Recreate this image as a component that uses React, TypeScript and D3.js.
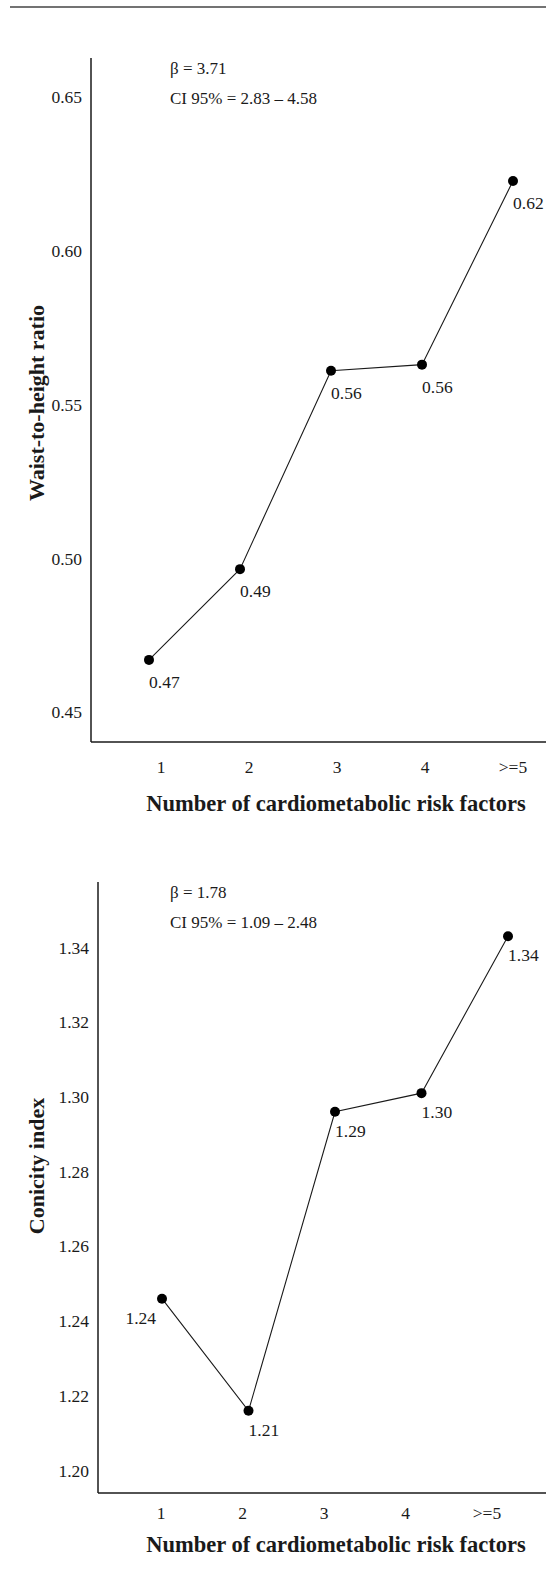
import * as d3 from "d3";
import { useEffect, useRef } from "react";

// categories on the x axis
const categories = ["1", "2", "3", "4", ">=5"];

// waist-to-height ratio (top chart)
const whtrValues = [0.467, 0.4965, 0.561, 0.563, 0.6227];
const whtrLabels = ["0.47", "0.49", "0.56", "0.56", "0.62"];
const whtrTicks = [0.45, 0.5, 0.55, 0.6, 0.65];
const whtrStats = ["β = 3.71", "CI 95% = 2.83 – 4.58"];

// conicity index (bottom chart)
const conicityValues = [1.246, 1.216, 1.296, 1.301, 1.343];
const conicityLabels = ["1.24", "1.21", "1.29", "1.30", "1.34"];
const conicityTicks = [1.2, 1.22, 1.24, 1.26, 1.28, 1.3, 1.32, 1.34];
const conicityStats = ["β = 1.78", "CI 95% = 1.09 – 2.48"];

const xTitle = "Number of cardiometabolic risk factors";

const FONT = "'Liberation Serif', 'DejaVu Serif', serif";
const INK = "#1a1a1a";

const charts = [
  {
    values: whtrValues,
    labels: whtrLabels,
    ticks: whtrTicks,
    tickFormat: d3.format(".2f"),
    stats: whtrStats,
    yTitle: "Waist-to-height ratio",
    yTitleY: 403,
    domain: [0.4403, 0.6627],
    top: 58,
    bottom: 742,
    left: 91,
    markRange: [149, 513],
    tickRange: [161, 513],
    tickLabelGap: 25,
    titleGap: 61,
    labelDy: 22,
    labelAnchor: ["start", "start", "start", "start", "start"],
  },
  {
    values: conicityValues,
    labels: conicityLabels,
    ticks: conicityTicks,
    tickFormat: d3.format(".2f"),
    stats: conicityStats,
    yTitle: "Conicity index",
    yTitleY: 1166,
    domain: [1.194, 1.3575],
    top: 882,
    bottom: 1493,
    left: 98,
    markRange: [162, 508],
    tickRange: [161, 487],
    tickLabelGap: 20,
    titleGap: 51,
    labelDy: 19,
    labelAnchor: ["end", "start", "start", "start", "start"],
  },
];

const W = 546;
const H = 1581;

export default function App() {
  const ref = useRef<SVGSVGElement>(null);

  useEffect(() => {
    const svg = d3.select(ref.current);
    svg.selectAll("*").remove();

    // thin rule across the top of the page
    svg.append("line")
      .attr("x1", 10).attr("x2", W)
      .attr("y1", 7).attr("y2", 7)
      .attr("stroke", "#444")
      .attr("stroke-width", 1.5);

    charts.forEach(c => {
      const g = svg.append("g");
      const y = d3.scaleLinear().domain(c.domain).range([c.bottom, c.top]);
      const xMark = d3.scalePoint().domain(categories).range(c.markRange);
      const xTick = d3.scalePoint().domain(categories).range(c.tickRange);

      // axes (just the two lines, no tick marks)
      g.append("line")
        .attr("x1", c.left).attr("x2", c.left)
        .attr("y1", c.top).attr("y2", c.bottom)
        .attr("stroke", INK).attr("stroke-width", 1.5);
      g.append("line")
        .attr("x1", c.left).attr("x2", W)
        .attr("y1", c.bottom).attr("y2", c.bottom)
        .attr("stroke", INK).attr("stroke-width", 1.5);

      // y tick labels
      g.selectAll(".ytick")
        .data(c.ticks)
        .enter()
        .append("text")
        .attr("x", c.left - 9)
        .attr("y", d => y(d))
        .attr("dy", "0.35em")
        .attr("text-anchor", "end")
        .attr("font-family", FONT)
        .attr("font-size", 17.5)
        .attr("fill", INK)
        .text(d => c.tickFormat(d));

      // x tick labels
      g.selectAll(".xtick")
        .data(categories)
        .enter()
        .append("text")
        .attr("x", d => xTick(d)!)
        .attr("y", c.bottom + c.tickLabelGap)
        .attr("dy", "0.35em")
        .attr("text-anchor", "middle")
        .attr("font-family", FONT)
        .attr("font-size", 17.5)
        .attr("fill", INK)
        .text(d => d);

      // axis titles
      g.append("text")
        .attr("x", 336)
        .attr("y", c.bottom + c.titleGap)
        .attr("dy", "0.35em")
        .attr("text-anchor", "middle")
        .attr("font-family", FONT)
        .attr("font-size", 22.5)
        .attr("font-weight", "bold")
        .attr("fill", INK)
        .text(xTitle);

      g.append("text")
        .attr("transform", `translate(36, ${c.yTitleY}) rotate(-90)`)
        .attr("dy", "0.35em")
        .attr("text-anchor", "middle")
        .attr("font-family", FONT)
        .attr("font-size", 22)
        .attr("font-weight", "bold")
        .attr("fill", INK)
        .text(c.yTitle);

      // beta and CI note
      c.stats.forEach((s, i) => {
        g.append("text")
          .attr("x", 170)
          .attr("y", c.top + 10 + i * 30)
          .attr("dy", "0.35em")
          .attr("font-family", FONT)
          .attr("font-size", 17)
          .attr("fill", INK)
          .text(s);
      });

      // line + points
      const pts = categories.map((k, i) => ({ k, v: c.values[i], label: c.labels[i], i }));
      const line = d3.line<any>()
        .x(d => xMark(d.k)!)
        .y(d => y(d.v));
      g.append("path")
        .attr("d", line(pts))
        .attr("fill", "none")
        .attr("stroke", INK)
        .attr("stroke-width", 1.1);

      g.selectAll(".pt")
        .data(pts)
        .enter()
        .append("circle")
        .attr("cx", d => xMark(d.k)!)
        .attr("cy", d => y(d.v))
        .attr("r", 5)
        .attr("fill", "#000");

      g.selectAll(".lbl")
        .data(pts)
        .enter()
        .append("text")
        .attr("x", d => xMark(d.k)! + (c.labelAnchor[d.i] === "end" ? -6 : 0))
        .attr("y", d => y(d.v) + c.labelDy)
        .attr("dy", "0.35em")
        .attr("text-anchor", d => c.labelAnchor[d.i])
        .attr("font-family", FONT)
        .attr("font-size", 17.5)
        .attr("fill", INK)
        .text(d => d.label);
    });
  }, []);

  return (
    <svg
      ref={ref}
      width={W}
      height={H}
      style={{ position: "absolute", left: 0, top: 0, background: "#fff" }}
    />
  );
}
